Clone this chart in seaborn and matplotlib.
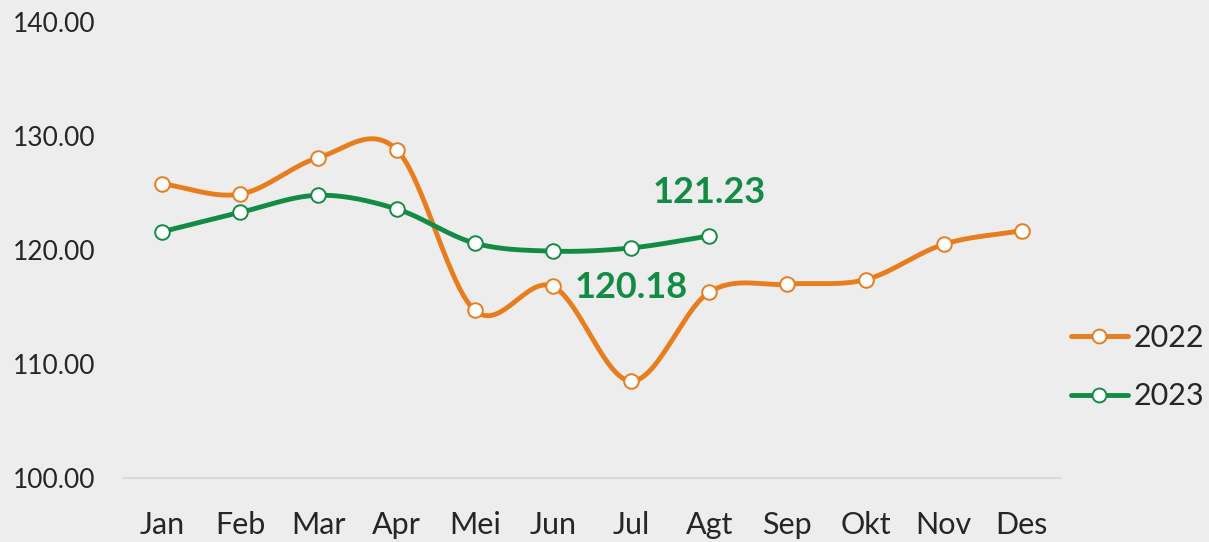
import numpy as np
import pandas as pd
import matplotlib
matplotlib.use("Agg")
import matplotlib.pyplot as plt
import matplotlib.transforms as mtrans
from matplotlib.lines import Line2D
import seaborn as sns

# data
months = ['Jan', 'Feb', 'Mar', 'Apr', 'Mei', 'Jun', 'Jul', 'Agt', 'Sep', 'Okt', 'Nov', 'Des']
vals_2022 = [125.8, 124.9, 128.1, 128.8, 114.7, 116.8, 108.5, 116.3, 117.0, 117.4, 120.5, 121.7]
vals_2023 = [121.6, 123.3, 124.8, 123.6, 120.6, 119.9, 120.18, 121.23]
labels_2023 = {6: '120.18', 7: '121.23'}
yticks = [100, 110, 120, 130, 140]

c2022 = '#E87D1E'
c2023 = '#128C45'
bg = '#EDEDED'


def smooth(x, y, n=30):
    # Catmull-Rom curve through the points (Excel-like smoothed line)
    x = np.asarray(x, float)
    y = np.asarray(y, float)
    px = np.concatenate([[2 * x[0] - x[1]], x, [2 * x[-1] - x[-2]]])
    py = np.concatenate([[2 * y[0] - y[1]], y, [2 * y[-1] - y[-2]]])
    xs, ys = [], []
    t = np.linspace(0, 1, n)
    for i in range(1, len(px) - 2):
        for p, out in ((px, xs), (py, ys)):
            p0, p1, p2, p3 = p[i - 1], p[i], p[i + 1], p[i + 2]
            out.extend(0.5 * ((2 * p1) + (-p0 + p2) * t +
                              (2 * p0 - 5 * p1 + 4 * p2 - p3) * t ** 2 +
                              (-p0 + 3 * p1 - 3 * p2 + p3) * t ** 3))
    return np.array(xs), np.array(ys)


sns.set_theme(style='white')
plt.rcParams['font.family'] = ['Lato', 'DejaVu Sans']

fig = plt.figure(figsize=(12.09, 5.42), dpi=100, facecolor=bg)
ax = fig.add_axes([123 / 1209, 1 - 478 / 542, (1061 - 123) / 1209, (478 - 22) / 542])
ax.set_facecolor(bg)

df = pd.DataFrame({
    'x': list(range(len(vals_2022))) + list(range(len(vals_2023))),
    'v': vals_2022 + vals_2023,
    'year': ['2022'] * len(vals_2022) + ['2023'] * len(vals_2023),
})

for yr, col in (('2022', c2022), ('2023', c2023)):
    sub = df[df['year'] == yr]
    sx, sy = smooth(sub['x'], sub['v'])
    ax.plot(sx, sy, color=col, lw=3.5, solid_capstyle='round', zorder=2)
    sns.scatterplot(data=sub, x='x', y='v', ax=ax, color='white', edgecolor=col,
                    linewidth=1.4, s=110, zorder=3, legend=False)

# data labels: 121.23 above its point, 120.18 below
offsets = {6: -0.4, 7: 0.43}
for i, txt in labels_2023.items():
    ax.text(i, vals_2023[i], txt, color=c2023, fontsize=26, fontweight='bold',
            ha='center', va='center',
            transform=ax.transData + mtrans.ScaledTranslation(0, offsets[i], fig.dpi_scale_trans))

ax.set_xlim(-0.5, len(months) - 0.5)
ax.set_ylim(100, 140)
ax.set_yticks(yticks)
ax.set_yticklabels([f'{v:.2f}' for v in yticks], fontsize=19)
ax.set_xticks(range(len(months)))
ax.set_xticklabels(months, fontsize=22)
ax.tick_params(axis='x', length=0, pad=24)
ax.tick_params(axis='y', length=0, pad=20)
for s in ['top', 'right', 'left']:
    ax.spines[s].set_visible(False)
ax.spines['bottom'].set_color('#D9D9D9')
ax.spines['bottom'].set_linewidth(1.5)
ax.set_xlabel('')
ax.set_ylabel('')

handles = [Line2D([], [], color=c, lw=3.5, marker='o', markersize=10,
                  markerfacecolor='white', markeredgecolor=c, markeredgewidth=1.4)
           for c in (c2022, c2023)]
fig.legend(handles, ['2022', '2023'], loc='center left',
           bbox_to_anchor=(1071 / 1209, 1 - 367 / 542), frameon=False, borderpad=0,
           borderaxespad=0, fontsize=22, handlelength=1.85, handletextpad=0.2,
           labelspacing=1.0)

fig.savefig('out.png', dpi=100, facecolor=bg)
